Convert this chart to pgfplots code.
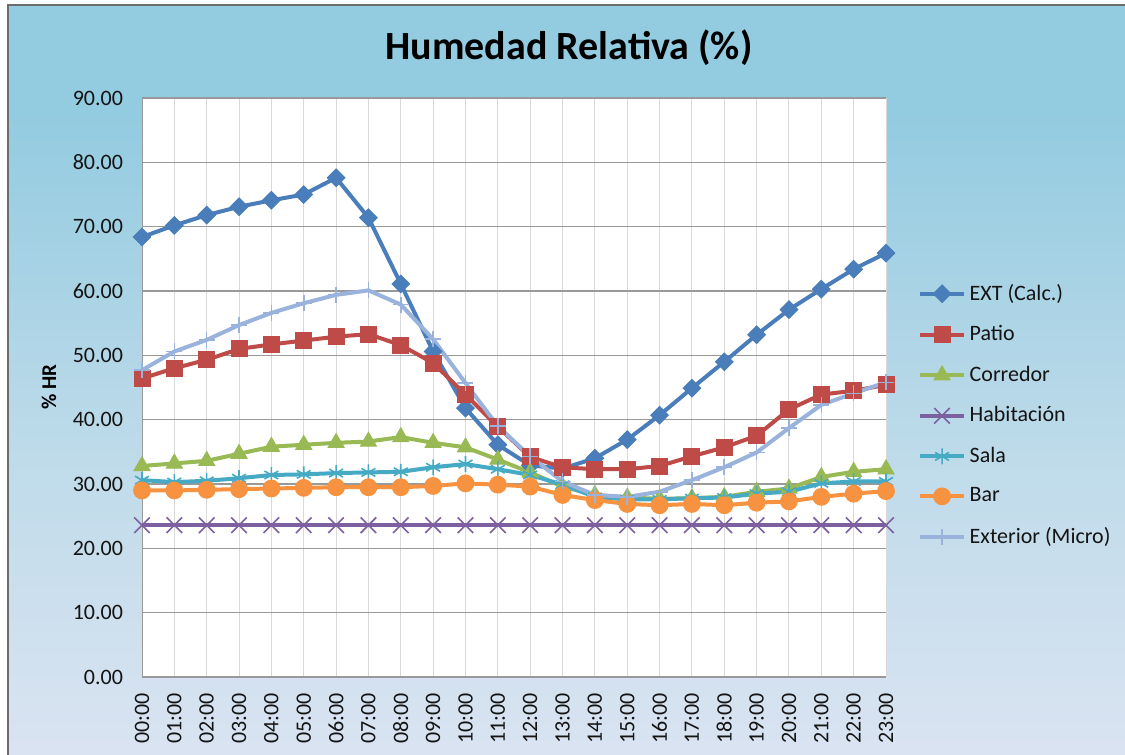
\documentclass[border=0pt]{standalone}
\usepackage{pgfplots}
\pgfplotsset{compat=1.18}
\usepackage{fontspec}
\setmainfont{Carlito}

\definecolor{cExt}{HTML}{4A7EBB}
\definecolor{cPatio}{HTML}{BE4B48}
\definecolor{cCorr}{HTML}{98B954}
\definecolor{cHab}{HTML}{7D60A0}
\definecolor{cSala}{HTML}{46AAC5}
\definecolor{cBar}{HTML}{F69240}
\definecolor{cMicro}{HTML}{9AB3DC}
\definecolor{bgtop}{HTML}{93CBE0}
\definecolor{bgmid}{HTML}{BFDBEA}
\definecolor{bgbot}{HTML}{DFE5F3}

\pgfdeclareverticalshading{chartbg}{100bp}{color(0bp)=(bgbot); color(22bp)=(bgbot); color(45bp)=(bgmid); color(68bp)=(bgtop); color(100bp)=(bgtop)}

% hourly relative humidity
\pgfplotstableread{
h   ext   patio corr  hab   sala  bar   micro
0   68.4  46.4  32.8  23.6  30.6  29.0  47.7
1   70.2  48.0  33.2  23.6  30.3  29.0  50.6
2   71.8  49.3  33.6  23.6  30.5  29.1  52.4
3   73.1  51.0  34.7  23.6  30.9  29.2  54.7
4   74.1  51.7  35.8  23.6  31.4  29.3  56.6
5   75.0  52.3  36.1  23.6  31.5  29.4  58.1
6   77.6  52.9  36.4  23.6  31.7  29.5  59.4
7   71.4  53.3  36.6  23.6  31.8  29.5  60.1
8   61.1  51.6  37.3  23.6  31.9  29.5  57.9
9   50.6  48.8  36.4  23.6  32.6  29.7  52.5
10  41.8  43.9  35.7  23.6  33.1  30.1  45.7
11  36.1  38.9  33.8  23.6  32.3  29.9  39.0
12  32.9  34.2  31.8  23.6  31.4  29.6  34.3
13  32.4  32.6  29.6  23.6  29.9  28.3  30.4
14  34.0  32.3  28.3  23.6  28.0  27.5  28.3
15  36.9  32.3  27.9  23.6  27.6  26.9  28.0
16  40.7  32.8  27.7  23.6  27.6  26.7  28.8
17  44.9  34.3  27.8  23.6  27.8  26.9  30.6
18  49.0  35.7  28.0  23.6  27.9  26.7  32.6
19  53.2  37.5  28.8  23.6  28.5  27.1  34.9
20  57.1  41.6  29.3  23.6  28.8  27.3  38.7
21  60.3  43.9  31.1  23.6  30.1  28.0  42.3
22  63.4  44.5  31.9  23.6  30.4  28.5  44.1
23  65.9  45.4  32.3  23.6  30.4  28.9  45.8
}\hr

\begin{document}
\begin{tikzpicture}[x=0.5pt,y=-0.5pt]
\useasboundingbox (0,0) rectangle (1125,755);
\fill[white] (0,0) rectangle (1125,755);
\shade[shading=chartbg] (8,5) rectangle (1135,765);
\draw[gray!85!black, line width=1.2pt] (8,5) rectangle (1135,765);
\node[rotate=90, font=\bfseries\fontsize{10.5}{12}\selectfont] at (49,387) {\% HR};
\coordinate (axo) at (142,677);

\begin{axis}[
  at={(axo)}, anchor=south west,
  scale only axis,
  width=372pt, height=289.5pt,
  xmin=0, xmax=23, ymin=0, ymax=90,
  xtick={0,...,23},
  xticklabels={00:00,01:00,02:00,03:00,04:00,05:00,06:00,07:00,08:00,09:00,10:00,11:00,
    12:00,13:00,14:00,15:00,16:00,17:00,18:00,19:00,20:00,21:00,22:00,23:00},
  ytick={0,10,...,90},
  yticklabel style={/pgf/number format/.cd, fixed, fixed zerofill, precision=2, assume math mode=true},
  ticklabel style={font=\fontsize{11}{13}\selectfont, text=black!92},
  xticklabel style={rotate=90, anchor=east},
  major tick length=0pt,
  yticklabel shift=6pt, xticklabel shift=4.5pt,
  axis background/.style={fill=white},
  axis line style={draw=gray!80},
  axis x line*=bottom, axis y line*=left,
  xmajorgrids, ymajorgrids,
  x grid style={draw=gray!30, line width=0.5pt},
  y grid style={draw=gray!80, line width=0.6pt},
  title={Humedad Relativa (\%)},
  title style={at={(0.574,1.067)}, anchor=center, font=\bfseries\fontsize{20}{24}\selectfont},
  legend style={at={(1.035,0.693)}, anchor=north west, draw=none, fill=none,
    font=\fontsize{11}{13}\selectfont, row sep=7.15pt, text=black!92},
  legend cell align=left,
  legend image code/.code={
    \draw[mark repeat=2, mark phase=2, #1] plot coordinates {(0cm,0cm) (0.38cm,0cm) (0.76cm,0cm)};},
  every axis plot/.append style={line width=2pt},
]
\addplot[cExt, mark=square*, mark size=3.1pt, mark options={rotate=45, line width=0.5pt}] table[x=h, y=ext] {\hr};
\addlegendentry{EXT (Calc.)}
\addplot[cPatio, mark=square*, mark size=4pt, mark options={line width=0.5pt}] table[x=h, y=patio] {\hr};
\addlegendentry{Patio}
\addplot[cCorr, mark=triangle*, mark size=4.6pt, mark options={line width=0.5pt}] table[x=h, y=corr] {\hr};
\addlegendentry{Corredor}
\addplot[cHab, mark=x, mark size=5.5pt, mark options={line width=0.8pt}] table[x=h, y=hab] {\hr};
\addlegendentry{Habitación}
\addplot[cSala, mark=asterisk, mark size=4pt, mark options={line width=0.8pt}] table[x=h, y=sala] {\hr};
\addlegendentry{Sala}
\addplot[cBar, mark=*, mark size=4.2pt, mark options={line width=0.5pt}] table[x=h, y=bar] {\hr};
\addlegendentry{Bar}
\addplot[cMicro, mark=+, mark size=4pt, mark options={line width=0.8pt}] table[x=h, y=micro] {\hr};
\addlegendentry{Exterior (Micro)}
\end{axis}
\end{tikzpicture}
\end{document}
